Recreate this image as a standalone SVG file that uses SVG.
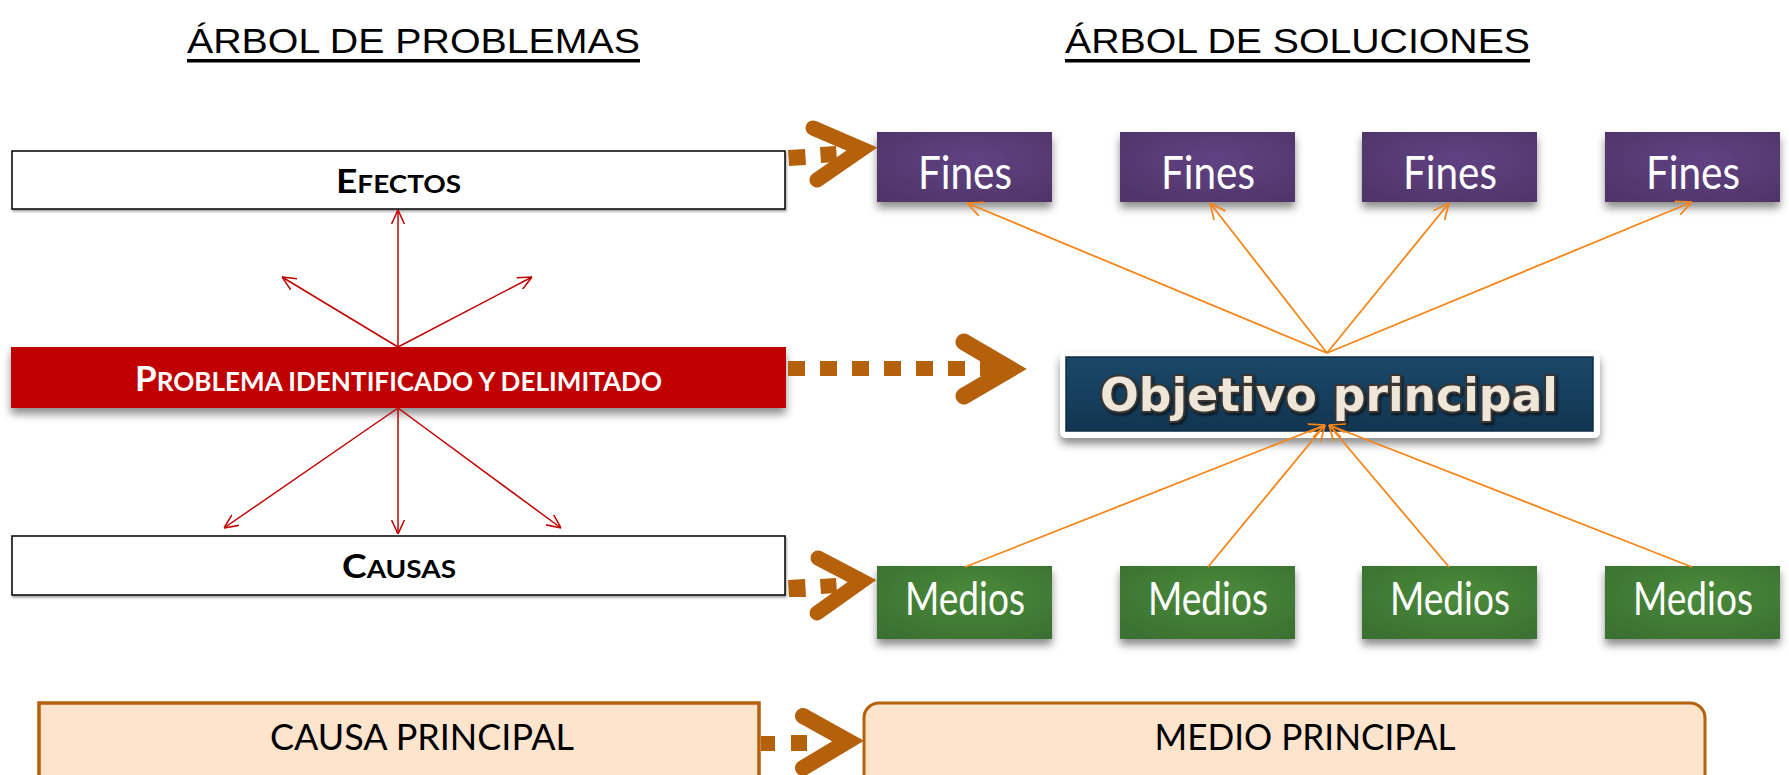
<svg xmlns="http://www.w3.org/2000/svg" width="1789" height="775" viewBox="0 0 1789 775">
<style>
.title{font-family:"Liberation Sans",Arial,sans-serif;font-size:35px;fill:#000}
.sc{font-family:Lato,"Noto Sans",sans-serif;font-weight:bold}
.boxlabel{font-family:Lato,"Noto Sans",sans-serif;font-size:46px;fill:#fff;text-anchor:middle}
.plain{font-family:Lato,"Noto Sans",sans-serif;font-size:37px;fill:#000;text-anchor:middle}
.red{stroke:#C00000;stroke-width:1.5;fill:none}
.org{stroke:#F4861A;stroke-width:1.8;fill:none}
.dash{fill:#B5600A}
.chev{fill:none;stroke:#B5600A;stroke-linecap:round;stroke-linejoin:miter;stroke-miterlimit:6}
</style>
<defs>
<marker id="ar" viewBox="0 0 12 12" refX="12" refY="6" markerWidth="14" markerHeight="14" markerUnits="userSpaceOnUse" orient="auto">
<path d="M0,0.5 L12,6 L0,11.5" fill="none" stroke="#C00000" stroke-width="1.3"/>
</marker>
<marker id="ao" viewBox="0 0 12 12" refX="12" refY="6" markerWidth="16" markerHeight="16" markerUnits="userSpaceOnUse" orient="auto">
<path d="M0,0.5 L12,6 L0,11.5" fill="none" stroke="#F4861A" stroke-width="1.3"/>
</marker>
<filter id="sh" x="-10%" y="-20%" width="120%" height="160%">
<feDropShadow dx="0" dy="6" stdDeviation="4" flood-color="#000" flood-opacity="0.45"/>
</filter>
<filter id="shs" x="-5%" y="-20%" width="110%" height="150%">
<feDropShadow dx="1" dy="2" stdDeviation="1" flood-color="#000" flood-opacity="0.35"/>
</filter>
<radialGradient id="gp" cx="0.55" cy="0.4" r="0.7">
<stop offset="0" stop-color="#614283"/>
<stop offset="1" stop-color="#4F3569"/>
</radialGradient>
<radialGradient id="gg" cx="0.55" cy="0.4" r="0.7">
<stop offset="0" stop-color="#4A8B3C"/>
<stop offset="1" stop-color="#3B7130"/>
</radialGradient>
<linearGradient id="gb" x1="0" y1="0" x2="0" y2="1">
<stop offset="0" stop-color="#1B4868"/>
<stop offset="0.5" stop-color="#163F5E"/>
<stop offset="1" stop-color="#123550"/>
</linearGradient>
<filter id="tsh" x="-5%" y="-20%" width="110%" height="150%">
<feDropShadow dx="1.5" dy="2" stdDeviation="1.2" flood-color="#000" flood-opacity="0.6"/>
</filter>
</defs>
<rect width="1789" height="775" fill="#fff"/>

<g id="title-problemas">
<text class="title" x="187" y="53" textLength="453" lengthAdjust="spacingAndGlyphs">ÁRBOL DE PROBLEMAS</text>
<rect x="187" y="59" width="453" height="3.5" fill="#000"/>
</g>
<g id="title-soluciones">
<text class="title" x="1065" y="53" textLength="465" lengthAdjust="spacingAndGlyphs">ÁRBOL DE SOLUCIONES</text>
<rect x="1065" y="59" width="465" height="3.5" fill="#000"/>
</g>

<g id="efectos">
<rect x="12" y="151" width="773" height="58" fill="#fff" stroke="#000" stroke-width="1.5" filter="url(#shs)"/>
<text class="sc" x="336" y="193" textLength="125" lengthAdjust="spacingAndGlyphs"><tspan font-size="32">E</tspan><tspan font-size="24">FECTOS</tspan></text>
</g>
<g id="problema">
<rect x="11" y="347" width="775" height="61" fill="#C00000" filter="url(#sh)"/>
<text class="sc" x="135" y="391" fill="#fff" textLength="527" lengthAdjust="spacingAndGlyphs"><tspan font-size="35">P</tspan><tspan font-size="26">ROBLEMA IDENTIFICADO Y DELIMITADO</tspan></text>
</g>
<g id="causas">
<rect x="12" y="536" width="773" height="59" fill="#fff" stroke="#000" stroke-width="1.5" filter="url(#shs)"/>
<text class="sc" x="342" y="578" textLength="114" lengthAdjust="spacingAndGlyphs"><tspan font-size="32">C</tspan><tspan font-size="24">AUSAS</tspan></text>
</g>

<g id="fines-1"><rect x="877" y="132" width="175" height="70" fill="url(#gp)" filter="url(#sh)"/><text class="boxlabel" x="965" y="189" textLength="94" lengthAdjust="spacingAndGlyphs">Fines</text></g>
<g id="fines-2"><rect x="1120" y="132" width="175" height="70" fill="url(#gp)" filter="url(#sh)"/><text class="boxlabel" x="1208" y="189" textLength="94" lengthAdjust="spacingAndGlyphs">Fines</text></g>
<g id="fines-3"><rect x="1362" y="132" width="175" height="70" fill="url(#gp)" filter="url(#sh)"/><text class="boxlabel" x="1450" y="189" textLength="94" lengthAdjust="spacingAndGlyphs">Fines</text></g>
<g id="fines-4"><rect x="1605" y="132" width="175" height="70" fill="url(#gp)" filter="url(#sh)"/><text class="boxlabel" x="1693" y="189" textLength="94" lengthAdjust="spacingAndGlyphs">Fines</text></g>

<g id="objetivo">
<rect x="1060" y="352" width="540" height="86" rx="6" fill="#fff" filter="url(#sh)"/>
<rect x="1066" y="357" width="527" height="74" fill="url(#gb)"/>
<rect x="1066" y="357" width="527" height="74" fill="none" stroke="#0E2D44" stroke-width="1.5"/>
<text x="1329" y="411" font-family="'DejaVu Sans',Verdana,sans-serif" font-weight="bold" font-size="47" fill="#EEE6D8" stroke="#3A3632" stroke-width="4" paint-order="stroke" stroke-linejoin="round" text-anchor="middle" textLength="458" lengthAdjust="spacingAndGlyphs" filter="url(#tsh)">Objetivo principal</text>
</g>

<g id="medios-1"><rect x="877" y="566" width="175" height="73" fill="url(#gg)" filter="url(#sh)"/><text class="boxlabel" x="965" y="615" textLength="120" lengthAdjust="spacingAndGlyphs">Medios</text></g>
<g id="medios-2"><rect x="1120" y="566" width="175" height="73" fill="url(#gg)" filter="url(#sh)"/><text class="boxlabel" x="1208" y="615" textLength="120" lengthAdjust="spacingAndGlyphs">Medios</text></g>
<g id="medios-3"><rect x="1362" y="566" width="175" height="73" fill="url(#gg)" filter="url(#sh)"/><text class="boxlabel" x="1450" y="615" textLength="120" lengthAdjust="spacingAndGlyphs">Medios</text></g>
<g id="medios-4"><rect x="1605" y="566" width="175" height="73" fill="url(#gg)" filter="url(#sh)"/><text class="boxlabel" x="1693" y="615" textLength="120" lengthAdjust="spacingAndGlyphs">Medios</text></g>

<g id="causa-principal">
<rect x="39" y="703" width="720" height="90" fill="#FCE4CD" stroke="#B5600A" stroke-width="3.5"/>
<text class="plain" x="422" y="750" textLength="304" lengthAdjust="spacingAndGlyphs">CAUSA PRINCIPAL</text>
</g>
<g id="medio-principal">
<rect x="864" y="703" width="841" height="90" rx="15" fill="#FCE4CD" stroke="#B5600A" stroke-width="3"/>
<text class="plain" x="1305" y="750" textLength="301" lengthAdjust="spacingAndGlyphs">MEDIO PRINCIPAL</text>
</g>

<g id="connectors">
<line class="red" x1="398" y1="347" x2="398" y2="210" marker-end="url(#ar)"/>
<line class="red" x1="398" y1="347" x2="282" y2="277" marker-end="url(#ar)"/>
<line class="red" x1="398" y1="347" x2="532" y2="277" marker-end="url(#ar)"/>
<line class="red" x1="398" y1="408" x2="224" y2="528" marker-end="url(#ar)"/>
<line class="red" x1="398" y1="408" x2="398" y2="534" marker-end="url(#ar)"/>
<line class="red" x1="398" y1="408" x2="561" y2="528" marker-end="url(#ar)"/>

<line class="org" x1="1327" y1="353" x2="967" y2="203" marker-end="url(#ao)"/>
<line class="org" x1="1327" y1="353" x2="1210" y2="203" marker-end="url(#ao)"/>
<line class="org" x1="1327" y1="353" x2="1449" y2="203" marker-end="url(#ao)"/>
<line class="org" x1="1327" y1="353" x2="1692" y2="202" marker-end="url(#ao)"/>
<line class="org" x1="965" y1="567" x2="1325" y2="425" marker-end="url(#ao)"/>
<line class="org" x1="1208" y1="567" x2="1325" y2="425" marker-end="url(#ao)"/>
<line class="org" x1="1449" y1="567" x2="1329" y2="425" marker-end="url(#ao)"/>
<line class="org" x1="1692" y1="567" x2="1329" y2="425" marker-end="url(#ao)"/>

<g id="arrow-efectos-fines">
<polygon class="dash" points="788,150 805,149 806,165 789,166"/>
<polygon class="dash" points="820,147 836,146 837,162 821,163"/>
<polyline class="chev" stroke-width="15" points="813,128 862,149 817,180"/>
</g>
<g id="arrow-problema-objetivo">
<line x1="788" y1="368.5" x2="1000" y2="368.5" stroke="#B5600A" stroke-width="15" stroke-dasharray="17 15"/>
<polyline class="chev" stroke-width="17" points="964,342 1010,369 964,396"/>
</g>
<g id="arrow-causas-medios">
<polygon class="dash" points="788,580 805,579 806,597 789,597"/>
<polygon class="dash" points="820,579 836,578 837,593 821,594"/>
<polyline class="chev" stroke-width="15" points="818,558 862,581 817,613"/>
</g>
<g id="arrow-principal">
<rect class="dash" x="761" y="736" width="14" height="15"/>
<rect class="dash" x="791" y="735" width="16" height="16"/>
<polyline class="chev" stroke-width="16" points="803,716 848,741 803,768"/>
</g>
</g>
</svg>
